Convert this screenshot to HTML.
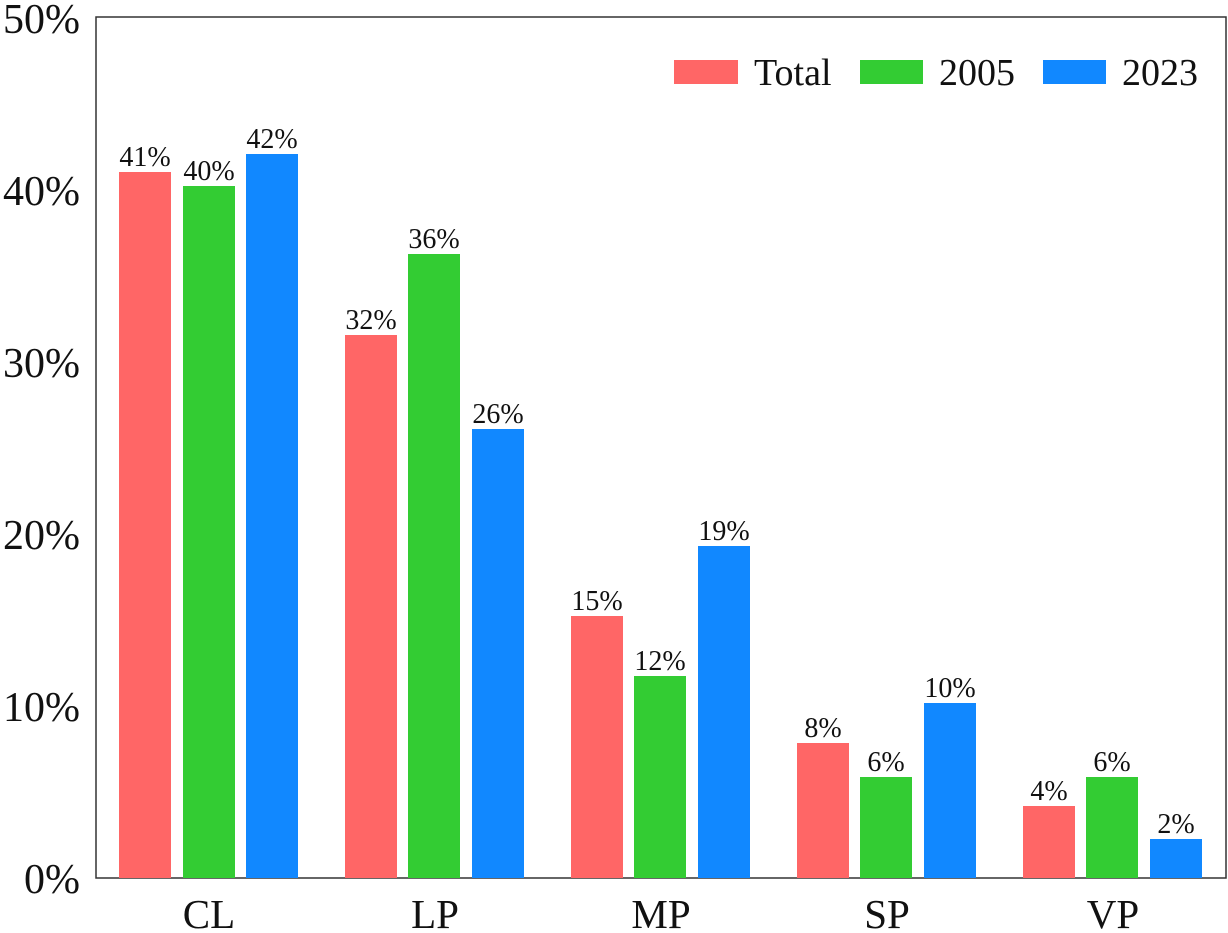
<!DOCTYPE html>
<html><head><style>body{margin:0;background:#fff}svg{display:block}</style></head><body>
<svg width="1228" height="933" xmlns="http://www.w3.org/2000/svg" font-family="Liberation Serif, serif">
<rect x="96" y="17" width="1130" height="861" fill="none" stroke="#333" stroke-width="1.5"/>
<g font-size="42" text-anchor="end" fill="#111">
<text x="80" y="893">0%</text>
<text x="80" y="721">10%</text>
<text x="80" y="549">20%</text>
<text x="80" y="377">30%</text>
<text x="80" y="205">40%</text>
<text x="80" y="33">50%</text>
</g>
<g font-size="41" text-anchor="middle" fill="#111">
<text x="209" y="928">CL</text>
<text x="435" y="928">LP</text>
<text x="661" y="928">MP</text>
<text x="887" y="928">SP</text>
<text x="1113" y="928">VP</text>
</g>
<g>
<rect x="119" y="172" width="52" height="706" fill="#ff6666"/>
<rect x="183" y="186" width="52" height="692" fill="#33cc33"/>
<rect x="246" y="154" width="52" height="724" fill="#1188ff"/>
<rect x="345" y="335" width="52" height="543" fill="#ff6666"/>
<rect x="408" y="254" width="52" height="624" fill="#33cc33"/>
<rect x="472" y="429" width="52" height="449" fill="#1188ff"/>
<rect x="571" y="616" width="52" height="262" fill="#ff6666"/>
<rect x="634" y="676" width="52" height="202" fill="#33cc33"/>
<rect x="698" y="546" width="52" height="332" fill="#1188ff"/>
<rect x="797" y="743" width="52" height="135" fill="#ff6666"/>
<rect x="860" y="777" width="52" height="101" fill="#33cc33"/>
<rect x="924" y="703" width="52" height="175" fill="#1188ff"/>
<rect x="1023" y="806" width="52" height="72" fill="#ff6666"/>
<rect x="1086" y="777" width="52" height="101" fill="#33cc33"/>
<rect x="1150" y="839" width="52" height="39" fill="#1188ff"/>
</g>
<g font-size="28" text-anchor="middle" fill="#111">
<text x="145" y="166">41%</text><text x="209" y="180">40%</text><text x="272" y="148">42%</text>
<text x="371" y="329">32%</text><text x="434" y="248">36%</text><text x="498" y="423">26%</text>
<text x="597" y="610">15%</text><text x="660" y="670">12%</text><text x="724" y="540">19%</text>
<text x="823" y="737">8%</text><text x="886" y="771">6%</text><text x="950" y="697">10%</text>
<text x="1049" y="800">4%</text><text x="1112" y="771">6%</text><text x="1176" y="833">2%</text>
</g>
<rect x="674" y="60" width="64" height="24" fill="#ff6666"/>
<rect x="860" y="60" width="63" height="24" fill="#33cc33"/>
<rect x="1043" y="60" width="63" height="24" fill="#1188ff"/>
<g font-size="38" fill="#111">
<text x="754" y="85">Total</text>
<text x="939" y="85">2005</text>
<text x="1122" y="85">2023</text>
</g>
</svg>
</body></html>
